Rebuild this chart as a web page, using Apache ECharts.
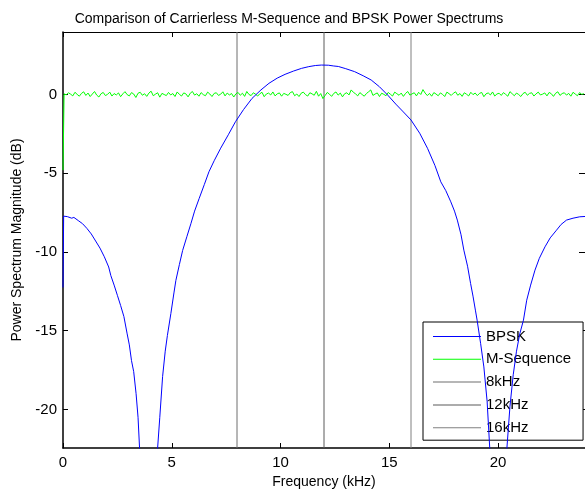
<!DOCTYPE html>
<html>
<head>
<meta charset="utf-8">
<script src="https://cdn.jsdelivr.net/npm/echarts@6/dist/echarts.min.js"></script>
<style>
html,body{margin:0;padding:0;background:#fff;}
#chart{width:585px;height:494px;}
</style>
</head>
<body>
<div id="chart"></div>
<script>
// ---------- data ----------
var titleText = 'Comparison of Carrierless M-Sequence and BPSK Power Spectrums';
var xTicks = [0, 5, 10, 15, 20];
var yTicks = [-20, -15, -10, -5, 0];
var xRange = [0, 24];
var yRange = [-22.45, 3.98];

// BPSK power spectrum (frequency kHz, dB)
var bpskFreq = [0, 0.03, 0.2, 0.4, 0.5, 0.7, 0.9, 1.1, 1.3, 1.5, 1.7, 1.9, 2.1, 2.2, 2.35, 2.5, 2.65, 2.8, 2.95, 3.05, 3.15, 3.25, 3.36, 3.45, 3.52, 3.94, 4.35, 4.45, 4.58, 4.7, 4.8, 4.96, 5.1, 5.19, 5.35, 5.5, 5.7, 5.88, 6.05, 6.26, 6.5, 6.71, 6.95, 7.25, 7.6, 7.93, 8.3, 8.69, 9.1, 9.47, 9.85, 10.21, 10.6, 10.97, 11.3, 11.6, 11.88, 12.2, 12.45, 12.66, 13.0, 13.41, 13.8, 14.17, 14.55, 14.93, 15.3, 15.65, 16.0, 16.4, 16.76, 17.1, 17.37, 17.6, 17.83, 18.0, 18.13, 18.3, 18.43, 18.6, 18.74, 18.85, 18.96, 19.04, 19.2, 19.35, 19.5, 19.62, 20.0, 20.41, 20.55, 20.7, 20.85, 21.0, 21.17, 21.32, 21.5, 21.7, 21.9, 22.16, 22.4, 22.69, 22.9, 23.15, 23.45, 23.76, 24];
var bpskDb = [-12.25, -7.72, -7.75, -7.85, -7.8, -8.0, -8.2, -8.5, -8.85, -9.3, -9.75, -10.3, -10.95, -11.5, -12.1, -12.75, -13.4, -14.1, -15.2, -15.9, -16.9, -17.6, -19.0, -20.5, -22.45, -40, -22.45, -20.5, -17.9, -16.3, -15.3, -13.9, -12.6, -11.8, -10.8, -9.9, -9.0, -8.2, -7.4, -6.6, -5.7, -4.9, -4.2, -3.4, -2.55, -1.72, -0.95, -0.24, 0.3, 0.72, 1.05, 1.29, 1.5, 1.67, 1.78, 1.85, 1.88, 1.87, 1.82, 1.79, 1.65, 1.46, 1.2, 0.93, 0.5, -0.03, -0.6, -1.1, -1.61, -2.45, -3.41, -4.5, -5.54, -6.1, -6.81, -7.4, -7.97, -8.9, -9.88, -10.9, -12.0, -12.8, -13.69, -14.33, -15.8, -17.3, -19.5, -22.45, -40, -22.45, -19.8, -17.8, -16.3, -15.2, -14.33, -13.06, -12.1, -11.15, -10.4, -9.67, -9.1, -8.61, -8.25, -7.97, -7.85, -7.76, -7.74];

// M-Sequence spectrum: first sample at 0 kHz, then samples from 0.05 kHz every 0.1 kHz
var mseqFirst = -4.8;
var mseqStart = 0.05;
var mseqStep = 0.1;
var mseqDb = [
 0.05, -0.02, 0.12, 0.03, -0.08, 0.15, 0.02, -0.1, 0.08, 0.18,
 -0.05, 0.1, -0.12, 0.04, 0.2, -0.03, -0.15, 0.06, 0.14, -0.06,
 0.02, 0.16, -0.09, 0.07, -0.02, 0.11, -0.13, 0.05, 0.19, 0.0,
 -0.08, 0.13, 0.04, -0.18, 0.09, 0.15, -0.04, 0.06, -0.11, 0.1,
 0.22, -0.07, 0.03, 0.12, -0.16, 0.08, 0.01, -0.06, 0.14, -0.02,
 0.07, -0.12, 0.17, 0.02, -0.09, 0.11, 0.05, -0.14, 0.09, 0.2,
 -0.03, 0.06, -0.1, 0.13, 0.0, -0.07, 0.16, 0.04, -0.12, 0.08,
 0.12, -0.05, 0.03, 0.18, -0.08, 0.1, -0.02, 0.07, -0.15, 0.05,
 0.14, -0.04, 0.09, -0.11, 0.2, 0.01, -0.06, 0.12, 0.03, -0.09,
 0.06, 0.15, -0.13, 0.04, 0.1, -0.02, 0.17, -0.08, 0.05, 0.11,
 -0.1, 0.08, 0.02, -0.05, 0.13, 0.19, -0.07, 0.04, -0.12, 0.09,
 0.16, 0.0, -0.09, 0.12, 0.05, -0.04, 0.21, -0.1, 0.07, -0.25,
 -0.06, 0.14, 0.03, -0.11, 0.08, 0.17, -0.03, 0.1, -0.14, 0.06,
 0.12, -0.02, 0.3, 0.15, 0.05, -0.08, 0.13, 0.01, -0.1, 0.07,
 0.18, 0.3, -0.05, 0.04, 0.11, -0.12, 0.09, 0.02, -0.07, 0.14,
 0.03, -0.09, 0.16, 0.06, -0.04, 0.1, -0.11, 0.08, 0.2, -0.03,
 0.05, 0.12, -0.08, 0.15, 0.01, 0.32, 0.1, -0.06, 0.08, -0.1,
 0.13, 0.04, -0.07, 0.11, 0.02, -0.12, 0.16, 0.06, -0.05, 0.09,
 0.18, -0.04, 0.07, -0.11, 0.12, 0.03, -0.08, 0.15, 0.0, 0.1,
 -0.06, 0.08, 0.14, -0.13, 0.05, 0.11, -0.02, 0.17, -0.09, 0.04,
 0.09, -0.05, 0.13, 0.02, -0.1, 0.19, 0.06, -0.07, 0.1, 0.01,
 -0.12, 0.07, 0.15, -0.04, 0.08, 0.12, -0.09, 0.05, 0.16, -0.02,
 0.03, 0.11, -0.08, 0.14, 0.06, -0.11, 0.09, 0.18, -0.05, 0.07,
 0.12, -0.03, 0.08, -0.1, 0.15, 0.04, -0.07, 0.13, 0.02, 0.06
];

// reference marker lines
var markerNames = ['8kHz', '12kHz', '16kHz'];
var markerFreqs = [8, 12, 16];
var markerColors = ['#6e6e6e', '#5a5a5a', '#808080'];

// ---------- build ----------
var FONT = 'Liberation Sans, Arial, sans-serif';
var bpskData = bpskFreq.map(function (f, i) { return [f, bpskDb[i]]; });
var mseqData = [[0, mseqFirst]].concat(mseqDb.map(function (v, i) {
  return [Math.round((mseqStart + i * mseqStep) * 1000) / 1000, v];
}));

var series = [
  { name: 'BPSK', type: 'line', data: bpskData, showSymbol: false, symbol: 'none',
    lineStyle: { color: '#0000ff', width: 1 }, itemStyle: { color: '#0000ff' }, z: 4, animation: false },
  { name: 'M-Sequence', type: 'line', data: mseqData, showSymbol: false, symbol: 'none',
    lineStyle: { color: '#00ff00', width: 1 }, itemStyle: { color: '#00ff00' }, z: 3, animation: false }
];
markerFreqs.forEach(function (f, i) {
  series.push({ name: markerNames[i], type: 'line', data: [[f, yRange[0]], [f, yRange[1]]],
    showSymbol: false, symbol: 'none', lineStyle: { color: markerColors[i], width: 1 },
    itemStyle: { color: markerColors[i] }, z: 2, animation: false });
});

function axisLine(w) {
  return { show: true, onZero: false, lineStyle: { color: '#000', width: w } };
}

var option = {
  backgroundColor: '#fff',
  animation: false,
  title: {
    text: titleText, left: 284, top: 7, textAlign: 'center',
    textStyle: { fontFamily: FONT, fontSize: 14, fontWeight: 'normal', color: '#000' }
  },
  grid: { left: 63, right: -4, top: 32, bottom: 46, containLabel: false },
  legend: {
    orient: 'vertical', left: 423, top: 322,
    data: ['BPSK', 'M-Sequence'].concat(markerNames),
    itemWidth: 48, itemHeight: 15, itemGap: 7.8,
    padding: [7, 12, 5, 10],
    backgroundColor: '#fff', borderColor: '#000', borderWidth: 1, borderRadius: 0,
    icon: 'path://M0,0 L48,0 L48,1 L0,1 Z',
    textStyle: { fontFamily: FONT, fontSize: 15, color: '#000', lineHeight: 15 },
    selectedMode: false
  },
  xAxis: [
    {
      type: 'value', min: xRange[0], max: xRange[1], position: 'bottom',
      axisLine: axisLine(1.5), splitLine: { show: false },
      name: 'Frequency (kHz)', nameLocation: 'middle', nameGap: 26,
      nameTextStyle: { fontFamily: FONT, fontSize: 14, color: '#000' },
      axisTick: { show: true, inside: true, length: 5, customValues: xTicks, lineStyle: { color: '#000' } },
      axisLabel: { customValues: xTicks, fontFamily: FONT, fontSize: 15, color: '#000', margin: 7 }
    },
    {
      type: 'value', min: xRange[0], max: xRange[1], position: 'top',
      axisLine: axisLine(1), splitLine: { show: false },
      axisTick: { show: true, inside: true, length: 5, customValues: xTicks, lineStyle: { color: '#000' } },
      axisLabel: { show: false }
    }
  ],
  yAxis: [
    {
      type: 'value', min: yRange[0], max: yRange[1], position: 'left',
      axisLine: axisLine(1.5), splitLine: { show: false },
      name: 'Power Spectrum Magnitude (dB)', nameLocation: 'middle', nameGap: 37,
      nameTextStyle: { fontFamily: FONT, fontSize: 14, color: '#000' },
      axisTick: { show: true, inside: true, length: 5, customValues: yTicks, lineStyle: { color: '#000' } },
      axisLabel: { customValues: yTicks, fontFamily: FONT, fontSize: 15, color: '#000', margin: 6 }
    },
    {
      type: 'value', min: yRange[0], max: yRange[1], position: 'right',
      axisLine: axisLine(1), splitLine: { show: false },
      axisTick: { show: true, inside: true, length: 6, customValues: yTicks, lineStyle: { color: '#000' } },
      axisLabel: { show: false }
    }
  ],
  series: series
};

var chart = echarts.init(document.getElementById('chart'), null, { renderer: 'canvas' });
chart.setOption(option);
</script>
</body>
</html>
